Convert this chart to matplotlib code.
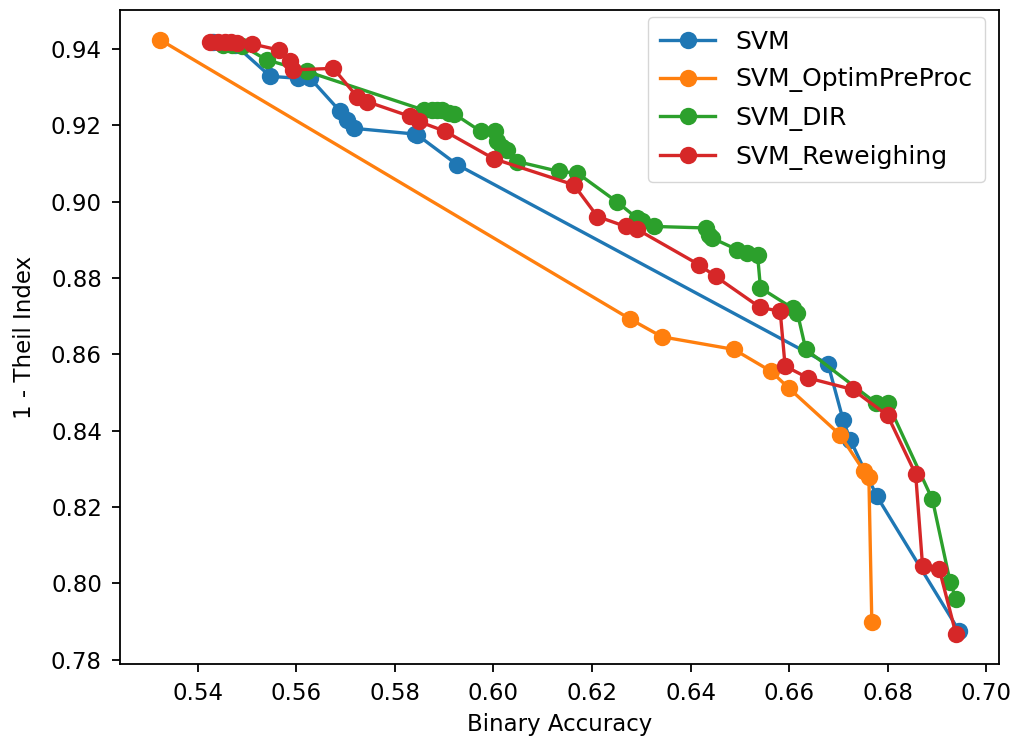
import numpy as np
import matplotlib
matplotlib.use("Agg")
from matplotlib import pyplot as plt

# accuracy / fairness trade-off points for each classifier variant
svm_acc = [0.5430, 0.5456, 0.5476, 0.5547, 0.5604, 0.5628, 0.5689, 0.5703, 0.5716,
           0.5840, 0.5845, 0.5926, 0.6679, 0.6710, 0.6724, 0.6778, 0.6945]
svm_fair = [0.9418, 0.9416, 0.9410, 0.9328, 0.9323, 0.9323, 0.9236, 0.9214, 0.9192,
            0.9177, 0.9175, 0.9097, 0.8575, 0.8427, 0.8377, 0.8229, 0.7876]

opt_acc = [0.5323, 0.6278, 0.6342, 0.6488, 0.6563, 0.6600, 0.6703, 0.6752, 0.6762, 0.6768]
opt_fair = [0.9424, 0.8692, 0.8646, 0.8613, 0.8556, 0.8511, 0.8390, 0.8294, 0.8279, 0.7898]

dir_acc = [0.5450, 0.5470, 0.5490, 0.5540, 0.5621, 0.5858, 0.5875, 0.5886, 0.5896,
           0.5910, 0.5920, 0.5974, 0.6004, 0.6007, 0.6018, 0.6028, 0.6048, 0.6133,
           0.6170, 0.6250, 0.6292, 0.6302, 0.6326, 0.6431, 0.6437, 0.6443, 0.6495,
           0.6515, 0.6536, 0.6542, 0.6607, 0.6617, 0.6634, 0.6776, 0.6800, 0.6891,
           0.6927, 0.6939]
dir_fair = [0.9411, 0.9409, 0.9408, 0.9371, 0.9341, 0.9240, 0.9241, 0.9241, 0.9240,
            0.9233, 0.9230, 0.9184, 0.9186, 0.9158, 0.9144, 0.9136, 0.9105, 0.9079,
            0.9075, 0.9000, 0.8956, 0.8948, 0.8935, 0.8931, 0.8913, 0.8905, 0.8874,
            0.8865, 0.8861, 0.8774, 0.8721, 0.8708, 0.8613, 0.8473, 0.8473, 0.8220,
            0.8004, 0.7959]

rw_acc = [0.5425, 0.5440, 0.5455, 0.5468, 0.5480, 0.5510, 0.5564, 0.5587, 0.5594,
          0.5675, 0.5723, 0.5743, 0.5831, 0.5848, 0.5902, 0.6001, 0.6163, 0.6211,
          0.6268, 0.6292, 0.6417, 0.6451, 0.6541, 0.6582, 0.6592, 0.6639, 0.6729,
          0.6800, 0.6857, 0.6871, 0.6905, 0.6939]
rw_fair = [0.9418, 0.9419, 0.9418, 0.9417, 0.9415, 0.9413, 0.9397, 0.9367, 0.9345,
           0.9349, 0.9275, 0.9262, 0.9223, 0.9210, 0.9184, 0.9112, 0.9044, 0.8961,
           0.8935, 0.8927, 0.8835, 0.8804, 0.8723, 0.8713, 0.8569, 0.8538, 0.8508,
           0.8440, 0.8286, 0.8046, 0.8037, 0.7867]

series = [
    ("SVM", svm_acc, svm_fair, "#1f77b4"),
    ("SVM_OptimPreProc", opt_acc, opt_fair, "#ff7f0e"),
    ("SVM_DIR", dir_acc, dir_fair, "#2ca02c"),
    ("SVM_Reweighing", rw_acc, rw_fair, "#d62728"),
]

fig = plt.figure(figsize=(10.11, 7.39), dpi=100)
ax = fig.add_axes([0.1187, 0.1015, 0.8694, 0.885])

for name, acc, fair, col in series:
    ax.plot(acc, fair, marker="o", color=col, label=name,
            linewidth=2.4, markersize=11, markeredgewidth=1.5)

ax.set_yticks(np.arange(0.78, 0.941, 0.02))
ax.set_xticks(np.arange(0.54, 0.701, 0.02))
ax.tick_params(labelsize=16.5, length=6, width=1.3, pad=7)
for s in ax.spines.values():
    s.set_linewidth(1.3)

ax.set_xlabel("Binary Accuracy", fontsize=16.5, labelpad=6)
ax.set_ylabel("1 - Theil Index", fontsize=16.5, labelpad=11)
ax.legend(loc="upper right", bbox_to_anchor=(0.984, 0.989), borderaxespad=0,
          fontsize=18, labelspacing=0.55, handlelength=2.2, borderpad=0.5)

fig.savefig("out.png", dpi=100)
